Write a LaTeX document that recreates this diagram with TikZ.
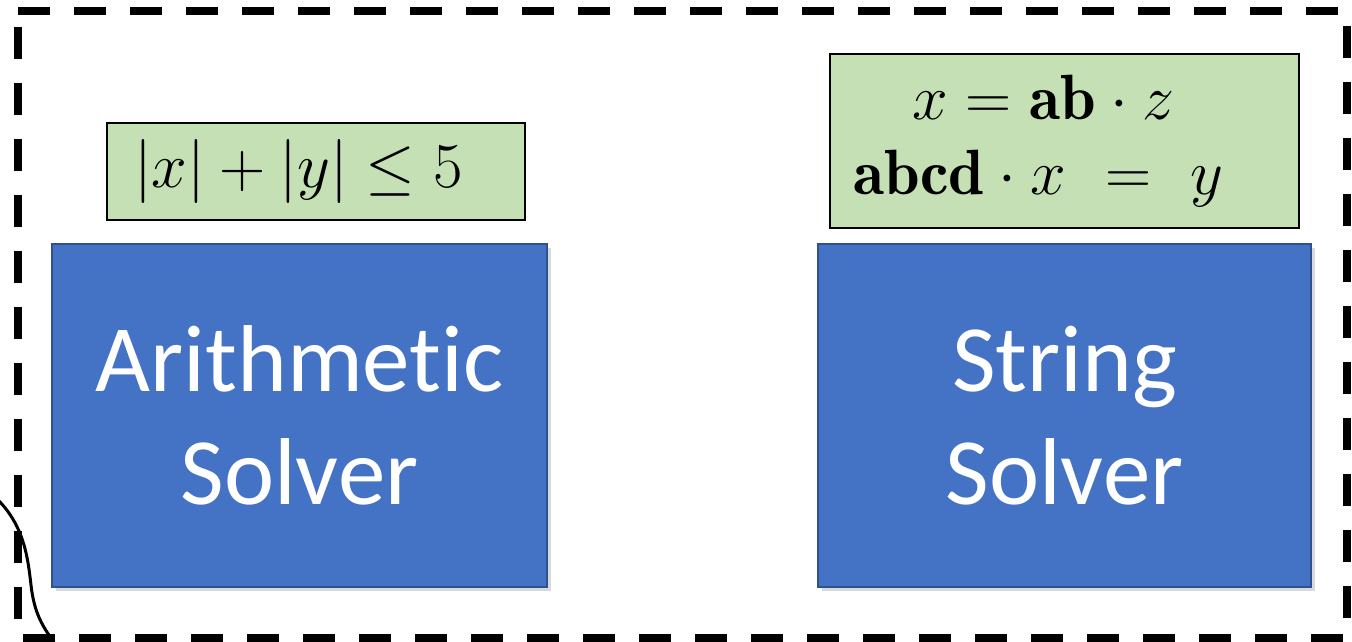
\RequirePackage{fix-cm}
\documentclass[tikz,border=0pt]{standalone}
\usepackage{fontspec}
\newfontfamily\carlito[Ligatures={NoCommon,NoRequired,NoContextual}]{Carlito}
\usetikzlibrary{shadows}
\definecolor{solverblue}{HTML}{4472C4}
\definecolor{solverborder}{HTML}{2F528F}
\definecolor{formulagreen}{HTML}{C5E0B4}
\begin{document}
\begin{tikzpicture}[x=1pt,y=-1pt,
  solver/.style={draw=solverborder, line width=2pt, fill=solverblue, text=white,
    inner sep=0pt, align=center, font=\carlito\fontsize{95}{113}\selectfont,
    drop shadow={opacity=0.3, shadow xshift=4pt, shadow yshift=-4pt}},
  formula/.style={draw=black, line width=1.5pt, fill=formulagreen, inner sep=0pt,
    align=center, font=\fontsize{64}{75}\selectfont},
  frame/.style={draw=black, line width=8pt, dash pattern=on 32pt off 24pt},
  wire/.style={draw=black, line width=3pt}]
\useasboundingbox (0,0) rectangle (1352,642);
\clip (0,0) rectangle (1352,642);
% dashed frame
\draw[frame] (18,11) -- (1347,11) -- (1347,638) -- (18,638) -- cycle;
% solvers
\node[solver, minimum width=495pt, minimum height=343pt] (arith) at (299.5,415.5)
  {Arithmetic\\Solver};
\node[solver, minimum width=493pt, minimum height=343pt] (string) at (1064.5,415.5)
  {String\\Solver};
% formulas
\node[formula, minimum width=418pt, minimum height=97pt] (arithf) at (316,171.5)
  {$|x|+|y|\leq 5$\hspace*{35pt}};
\node[formula, minimum width=469pt, minimum height=174pt] (stringf) at (1064.5,141)
  {$x=\mathbf{ab}\cdot z$\hspace*{42pt}\\$\mathbf{abcd}\cdot x\,\,=\,\,y$\hspace*{52pt}};
% curve at the lower left
\coordinate (cin) at (-5,497);
\coordinate (cout) at (54,642);
\draw[wire] (cin) .. controls (25,525) and (28,560) .. (31,585)
  .. controls (34,612) and (42,626) .. (cout);
\end{tikzpicture}
\end{document}
